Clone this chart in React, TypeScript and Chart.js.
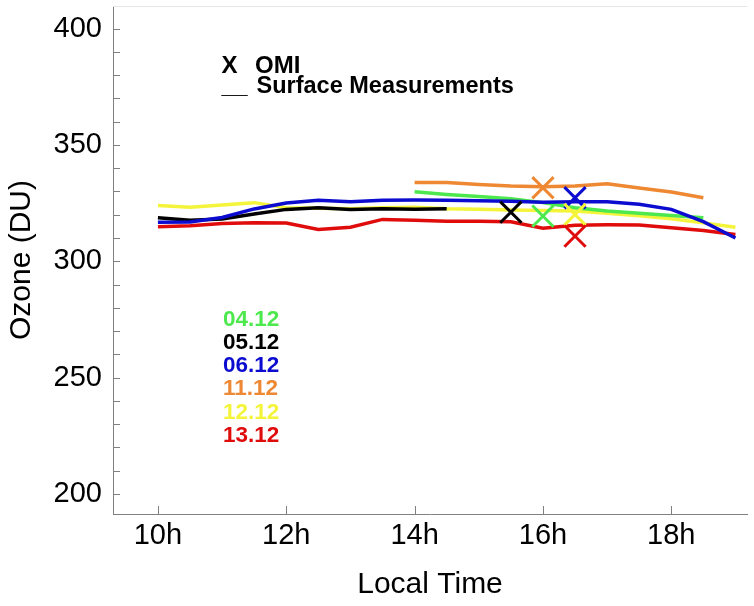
import React, { useRef, useEffect } from "react";
import { Chart, registerables, Plugin } from "chart.js";

Chart.register(...registerables);

// time axis (local hours)
const fullDay = [10, 10.5, 11, 11.5, 12, 12.5, 13, 13.5, 14, 14.5, 15, 15.5, 16, 16.5, 17, 17.5, 18, 18.5, 19];
const morning = [10, 10.5, 11, 11.5, 12, 12.5, 13, 13.5, 14, 14.5];
const afternoon = [14, 14.5, 15, 15.5, 16, 16.5, 17, 17.5, 18, 18.5];
const hourTicks = [10, 12, 14, 16, 18];
const ozoneLabels = [200, 250, 300, 350, 400];

// surface measurements (DU)
const surface0412 = [329.9, 328.7, 327.8, 326.9, 325.2, 323.0, 321.6, 320.6, 319.7, 318.7];
const surface0512 = [318.7, 317.6, 318.2, 320.3, 322.3, 323.0, 322.2, 322.6, 322.4, 322.6];
const surface0612 = [316.8, 316.9, 318.8, 322.5, 325.0, 326.2, 325.6, 326.2, 326.3, 326.2, 326.0, 325.8, 325.4, 325.6, 325.6, 324.5, 322.3, 317.0, 310.0];
const surface1112 = [333.8, 333.8, 333.0, 332.3, 332.0, 332.4, 333.3, 331.5, 329.8, 327.3];
const surface1212 = [324.0, 323.2, 324.2, 325.2, 323.0, 322.8, 322.6, 323.0, 323.2, 322.6, 322.4, 322.0, 321.8, 321.6, 320.6, 319.6, 318.3, 316.5, 314.6];
const surface1312 = [314.8, 315.3, 316.2, 316.6, 316.4, 313.7, 314.6, 318.0, 317.6, 317.2, 317.2, 317.0, 314.2, 315.5, 315.7, 315.6, 314.4, 313.2, 311.5];

// OMI overpasses, one per day
const dates = ["04.12", "05.12", "06.12", "11.12", "12.12", "13.12"];
const omiHours = [16, 15.5, 16.5, 16, 16.5, 16.5];
const omiValues = [319.4, 321.1, 327.3, 331.6, 320.1, 310.8];

const dateColors = ["#4de84d", "#000000", "#0c0cd0", "#ee8833", "#f4f43a", "#e00c0c"];

const FONT = "'Liberation Sans', Arial, sans-serif";

const pairs = (xs: number[], ys: number[]) => xs.map((x, i) => ({ x, y: ys[i] }));

const framePlugin: Plugin<"line"> = {
  id: "frame",
  afterDraw(chart) {
    const { ctx, chartArea: a, scales } = chart;
    ctx.save();
    // faint top edge
    ctx.strokeStyle = "#e6e6e6";
    ctx.lineWidth = 1;
    ctx.beginPath();
    ctx.moveTo(a.left, Math.round(a.top) + 0.5);
    ctx.lineTo(a.right, Math.round(a.top) + 0.5);
    ctx.stroke();

    // inward tick marks
    ctx.strokeStyle = "#808080";
    ctx.beginPath();
    scales.y.ticks.forEach((t) => {
      const py = Math.round(scales.y.getPixelForValue(t.value)) + 0.5;
      ctx.moveTo(a.left, py);
      ctx.lineTo(a.left + 7, py);
    });
    scales.x.ticks.forEach((t) => {
      const px = Math.round(scales.x.getPixelForValue(t.value)) + 0.5;
      ctx.moveTo(px, a.bottom);
      ctx.lineTo(px, a.bottom - 8);
    });
    ctx.stroke();

    // legend text
    ctx.fillStyle = "#000";
    ctx.textBaseline = "alphabetic";
    ctx.textAlign = "left";
    ctx.font = `bold 24px ${FONT}`;
    ctx.fillText("X", a.left + 108.5, a.top + 66.5);
    ctx.fillText("OMI", a.left + 142, a.top + 66.5);
    ctx.font = `bold 23.5px ${FONT}`;
    ctx.fillText("__", a.left + 108.5, a.top + 86.5);
    ctx.fillText("Surface Measurements", a.left + 143.5, a.top + 86.5);

    ctx.font = `bold 22.5px ${FONT}`;
    dates.forEach((d, i) => {
      ctx.fillStyle = dateColors[i];
      ctx.fillText(d, a.left + 110, a.top + 319.5 + i * 23.3);
    });
    ctx.restore();
  },
};

const App: React.FC = () => {
  const canvasRef = useRef<HTMLCanvasElement | null>(null);
  const chartRef = useRef<Chart | null>(null);

  useEffect(() => {
    if (!canvasRef.current) return;
    if (chartRef.current) chartRef.current.destroy();

    const line = (label: string, xs: number[], ys: number[], color: string) => ({
      label,
      data: pairs(xs, ys),
      borderColor: color,
      backgroundColor: color,
      borderWidth: 3.5,
      pointRadius: 0,
      tension: 0,
      fill: false,
    });

    // first dataset is drawn on top
    chartRef.current = new Chart(canvasRef.current, {
      type: "line",
      data: {
        datasets: [
          {
            label: "OMI",
            data: pairs(omiHours, omiValues),
            showLine: false,
            pointStyle: "crossRot",
            pointRadius: 15,
            pointBorderWidth: 3,
            pointBorderColor: dateColors,
            pointBackgroundColor: dateColors,
          },
          line(dates[2], fullDay, surface0612, dateColors[2]),
          line(dates[3], afternoon, surface1112, dateColors[3]),
          line(dates[5], fullDay, surface1312, dateColors[5]),
          line(dates[0], afternoon, surface0412, dateColors[0]),
          line(dates[1], morning, surface0512, dateColors[1]),
          line(dates[4], fullDay, surface1212, dateColors[4]),
        ],
      },
      options: {
        responsive: true,
        maintainAspectRatio: false,
        animation: false,
        layout: { autoPadding: false, padding: { top: 6, right: 7, left: 0, bottom: 0 } },
        plugins: {
          legend: { display: false },
          tooltip: { enabled: false },
        },
        scales: {
          x: {
            type: "linear",
            min: 9.3,
            max: 19.18,
            afterBuildTicks: (scale) => {
              scale.ticks = hourTicks.map((v) => ({ value: v }));
            },
            afterFit: (scale) => {
              scale.height = 92;
            },
            grid: { display: false, drawTicks: false },
            border: { display: true, color: "#808080", width: 1 },
            ticks: {
              autoSkip: false,
              maxRotation: 0,
              padding: 5,
              color: "#000",
              font: { family: FONT, size: 29 },
              callback: (v) => `${v}h`,
            },
            title: {
              display: true,
              text: "Local Time",
              color: "#000",
              font: { family: FONT, size: 30 },
              padding: { top: 0, bottom: 3 },
            },
          },
          y: {
            type: "linear",
            min: 191.4,
            max: 409.7,
            afterBuildTicks: (scale) => {
              const ticks = [];
              for (let v = ozoneLabels[0]; v <= ozoneLabels[ozoneLabels.length - 1]; v += 10) ticks.push({ value: v });
              scale.ticks = ticks;
            },
            afterFit: (scale) => {
              scale.width = 113;
            },
            // invisible tick marks give the label gap without adding layout padding
            grid: { display: true, drawOnChartArea: false, drawTicks: true, tickLength: 11, color: "rgba(0,0,0,0)" },
            border: { display: true, color: "#808080", width: 1 },
            ticks: {
              autoSkip: false,
              padding: 0,
              color: "#000",
              font: { family: FONT, size: 29, lineHeight: 0.4 },
              callback: (v) => (ozoneLabels.includes(Number(v)) ? String(v) : ""),
            },
            title: {
              display: true,
              text: "Ozone (DU)",
              color: "#000",
              font: { family: FONT, size: 30 },
              padding: { top: 4, bottom: 0 },
            },
          },
        },
      },
      plugins: [framePlugin],
    });

    return () => {
      if (chartRef.current) {
        chartRef.current.destroy();
        chartRef.current = null;
      }
    };
  }, []);

  return (
    <div style={{ position: "absolute", left: 0, top: 0, width: 754, height: 606, background: "#fff" }}>
      <canvas ref={canvasRef}></canvas>
    </div>
  );
};

export default App;
